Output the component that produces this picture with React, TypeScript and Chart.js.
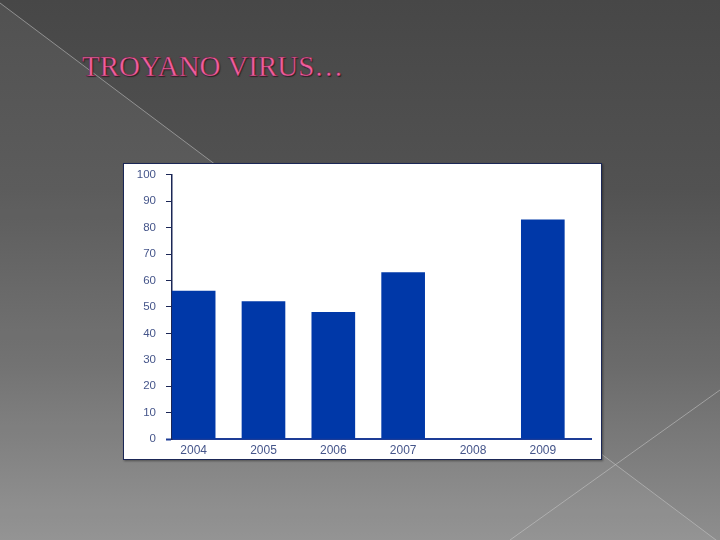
import React, { useEffect, useRef } from "react";
import { Chart, registerables } from "chart.js";

Chart.register(...registerables);

const years = ["2004", "2005", "2006", "2007", "2008", "2009"];
const values = [56, 52, 48, 63, 0, 83];
const yTicks = [0, 10, 20, 30, 40, 50, 60, 70, 80, 90, 100];

const BAR = "#0038a8";
const NAVY = "#1b2756";
const AXIS_BLUE = "#1d3c96";
const LABEL = "#45558a";

function ChartBox() {
  const ref = useRef<HTMLCanvasElement | null>(null);
  useEffect(() => {
    if (!ref.current) return;
    const chart = new Chart(ref.current, {
      type: "bar",
      data: {
        datasets: [
          {
            data: values.map((v, i) => ({ x: i, y: v })),
            backgroundColor: BAR,
            borderWidth: 0,
            barThickness: 43,
          },
        ],
      },
      options: {
        animation: false,
        responsive: false,
        maintainAspectRatio: false,
        devicePixelRatio: 1,
        layout: { padding: { left: 0, right: 10, top: 10, bottom: 0 } },
        plugins: { legend: { display: false }, tooltip: { enabled: false } },
        scales: {
          x: {
            type: "linear",
            offset: false,
            min: -0.31,
            max: 5.69,
            afterBuildTicks: (s: any) => {
              s.ticks = years.map((_, i) => ({ value: i }));
            },
            grid: { display: false, drawTicks: false },
            border: { display: true, color: AXIS_BLUE, width: 2 },
            ticks: {
              autoSkip: false,
              maxRotation: 0,
              padding: 4,
              color: LABEL,
              font: { family: "'Liberation Sans', Arial, sans-serif", size: 12 },
              callback: (v: any) => years[Math.round(v as number)] ?? "",
            },
            afterFit: (s: any) => {
              s.height = 20;
            },
          },
          y: {
            min: 0,
            max: 100,
            afterBuildTicks: (s: any) => {
              s.ticks = yTicks.map((v) => ({ value: v }));
            },
            grid: {
              drawOnChartArea: false,
              drawTicks: true,
              tickLength: 6,
              tickColor: (c: any) => (c.tick && c.tick.value === 0 ? AXIS_BLUE : NAVY),
              tickWidth: (c: any) => (c.tick && c.tick.value === 0 ? 2 : 1),
            },
            border: { display: true, color: NAVY, width: 1.5 },
            ticks: {
              padding: 10,
              color: LABEL,
              font: { family: "'Liberation Sans', Arial, sans-serif", size: 11.5 },
            },
            afterFit: (s: any) => {
              s.width = 48;
            },
          },
        },
      },
    });
    return () => chart.destroy();
  }, []);
  return (
    <canvas
      ref={ref}
      width={477}
      height={301}
      style={{ display: "block", marginTop: -6 }}
    />
  );
}

export default function App() {
  return (
    <div
      style={{
        position: "fixed",
        left: 0,
        top: 0,
        width: 720,
        height: 540,
        overflow: "hidden",
        background:
          "linear-gradient(to bottom, #474747 0%, #525252 35%, #6b6b6b 68%, #8e8e8e 100%)",
      }}
    >
      <svg
        width={720}
        height={540}
        style={{ position: "absolute", left: 0, top: 0 }}
      >
        <polygon points="0,3 720,543 0,543" fill="rgba(255,255,255,0.06)" />
        <line x1={0} y1={3} x2={720} y2={543} stroke="rgba(200,200,200,0.55)" strokeWidth={1} />
        <line x1={510} y1={540} x2={720} y2={390} stroke="rgba(200,200,200,0.55)" strokeWidth={1} />
      </svg>
      <div
        style={{
          position: "absolute",
          left: 82,
          top: 52,
          fontFamily: "'Liberation Serif', 'Times New Roman', serif",
          fontSize: 29,
          lineHeight: "29px",
          color: "#ef5f9c",
          WebkitTextStroke: "0.4px #6a1a40",
          textShadow: "1px 1px 1px #222222",
          whiteSpace: "nowrap",
        }}
      >
        TROYANO VIRUS…
      </div>
      <div
        style={{
          position: "absolute",
          left: 123,
          top: 163,
          width: 477,
          height: 295,
          overflow: "hidden",
          background: "#ffffff",
          border: `1px solid ${NAVY}`,
          boxShadow: "1px 1px 2px rgba(0,0,0,0.4)",
        }}
      >
        <ChartBox />
      </div>
    </div>
  );
}
